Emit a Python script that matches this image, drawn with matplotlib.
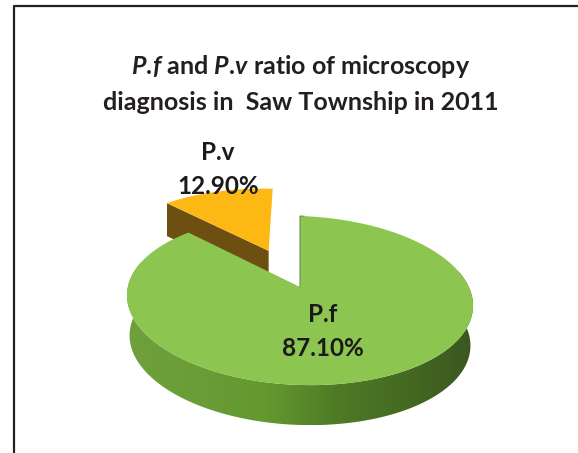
"""P.f / P.v ratio as a tilted 3D-looking pie."""

import numpy as np
import matplotlib

matplotlib.use("Agg")
import matplotlib.pyplot as plt
from matplotlib.colors import LinearSegmentedColormap
from matplotlib.patches import Polygon

species = ["P.f", "P.v"]
ratios = [87.10, 12.90]
explode = [0.0, 0.5]
top_colors = ["#8cc54f", "#fdb813"]

title_lines = [
    r"$\mathit{P{.}\!f}$ and $\mathit{P{.}\!v}$ ratio of microscopy",
    "diagnosis in  Saw Township in 2011",
]

plt.rcParams["font.family"] = ["Lato", "DejaVu Sans"]
plt.rcParams["font.weight"] = "bold"
plt.rcParams["mathtext.fontset"] = "custom"
plt.rcParams["mathtext.rm"] = "Lato:bold"
plt.rcParams["mathtext.it"] = "Lato:italic:bold"

# look of the tilted disc, in pixels
APEX = (300.0, 287.0)
K = 0.16
SX, SY = 170.8, 82.3
SHEAR = 0.03


def project(x, y, drop=0.0, shrink=1.0):
    w = 1 + K * y
    px = SX * shrink * x / w
    py = APEX[1] - SY * y / w + SHEAR * px + drop
    return APEX[0] + px, py


def wedge_outline(wedge, n=200):
    t = np.radians(np.linspace(wedge.theta1, wedge.theta2, n))
    cx, cy = wedge.center
    xs = np.r_[cx, cx + wedge.r * np.cos(t), cx]
    ys = np.r_[cy, cy + wedge.r * np.sin(t), cy]
    return project(xs, ys)


def wall(t0, t1, center, drop, shrink=0.985, n=200):
    t = np.radians(np.linspace(t0, t1, n))
    x = center[0] + np.cos(t)
    y = center[1] + np.sin(t)
    ax0, ay0 = project(x, y)
    ax1, ay1 = project(x, y, drop=drop, shrink=shrink)
    return np.r_[ax0, ax1[::-1]], np.r_[ay0, ay1[::-1]]


fig, ax = plt.subplots(figsize=(5.78, 4.53), dpi=100)
wedges, _ = ax.pie(ratios, explode=explode, startangle=90, counterclock=False)
geo = list(wedges)
for w in wedges:
    w.remove()

ax.set_position([0, 0, 1, 1])
ax.set_aspect("auto")
ax.set_xlim(0, 578)
ax.set_ylim(453, 0)
ax.axis("off")

pf, pv = geo

# P.v cut face, the green slice sits on top of its lower edge
cut = np.radians(pv.theta1 if np.isclose(np.cos(np.radians(pv.theta2)), 0, atol=1e-6) else pv.theta2)
cx, cy = pv.center
ex = np.array([cx, cx + np.cos(cut)])
ey = np.array([cy, cy + np.sin(cut)])
x0, y0 = project(ex, ey)
x1, y1 = project(ex, ey, drop=33)
ax.add_patch(Polygon(np.c_[np.r_[x0, x1[::-1]], np.r_[y0, y1[::-1]]], fc="#6e4f12", ec="none", zorder=1))
ax.fill(*wedge_outline(pv), color=top_colors[1], lw=0, zorder=2)

# P.f outer wall with a left-to-right shading
wx, wy = wall(165, 375, pf.center, 40)
green_side = LinearSegmentedColormap.from_list(
    "side", ["#6fa03c", "#6a9c38", "#64992f", "#4f7b26", "#456a22", "#3b5720"]
)
im = ax.imshow(
    np.linspace(0, 1, 256)[None, :],
    cmap=green_side,
    extent=[wx.min(), wx.max(), wy.max(), wy.min()],
    aspect="auto",
    zorder=3,
)
ax.set_xlim(0, 578)
ax.set_ylim(453, 0)
clip = Polygon(np.c_[wx, wy], transform=ax.transData, fc="none", ec="none")
ax.add_patch(clip)
im.set_clip_path(clip)

px, py = wedge_outline(pf)
ax.fill(px, py, color=top_colors[0], lw=0, zorder=4)
# thin dark edge along the gap
ax.plot(px[-3:], py[-3:], color="#6f8f48", lw=0.8, zorder=5)

# frame of the original figure
ax.plot([14, 14, 578], [453, 6, 6], color="#222222", lw=1.6, zorder=6, clip_on=False)

ax.text(301, 66, title_lines[0], ha="center", va="center", fontsize=18, color="#231f20")
ax.text(301, 103, title_lines[1], ha="center", va="center", fontsize=18, color="#231f20")

label_pos = [(323, 315), (218, 153)]
for name, val, (lx, ly) in zip(species, ratios, label_pos):
    ax.text(lx, ly, name, ha="center", va="center", fontsize=17.5, color="#1a1a1a", zorder=7)
    ax.text(lx, ly + 33, f"{val:.2f}%", ha="center", va="center", fontsize=17.5, color="#1a1a1a", zorder=7)

fig.savefig("out.png", dpi=100)
